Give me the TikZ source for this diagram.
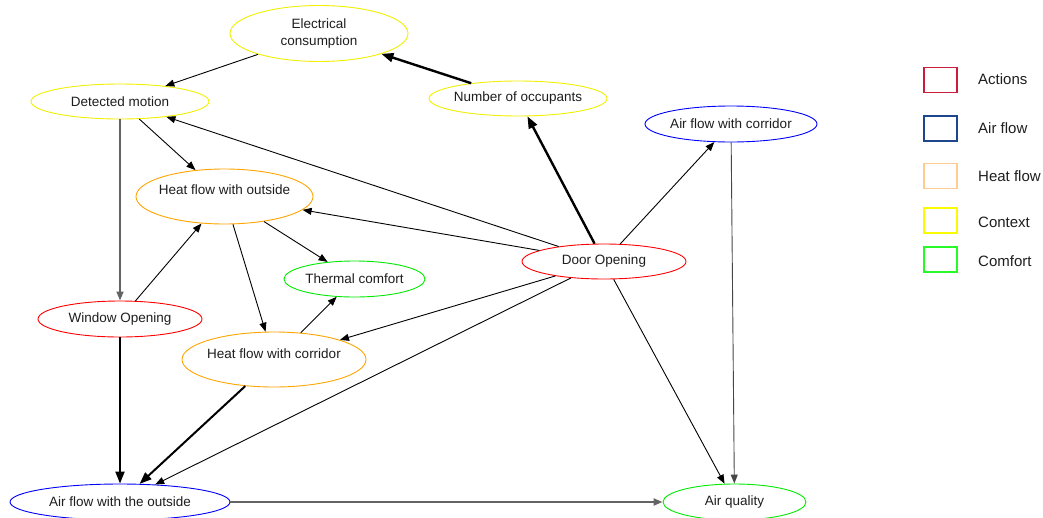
\documentclass[tikz,border=0pt]{standalone}
\usepackage{fontspec}
\setmainfont{Liberation Sans}
\usetikzlibrary{shapes.geometric,arrows.meta}
\definecolor{cyel}{RGB}{240,240,0}
\definecolor{cred}{RGB}{255,0,0}
\definecolor{cblue}{RGB}{0,0,255}
\definecolor{corange}{RGB}{255,165,0}
\definecolor{cgreen}{RGB}{0,235,0}
\definecolor{lgred}{RGB}{200,30,60}
\definecolor{lgblue}{RGB}{30,70,140}
\definecolor{lgorange}{RGB}{255,205,145}
\definecolor{lgyellow}{RGB}{250,250,0}
\definecolor{lggreen}{RGB}{40,250,40}
\definecolor{txt}{RGB}{30,30,30}
\tikzset{
  ell/.style={ellipse, draw=#1, line width=0.9pt, inner sep=0pt, fill=white},
  lbl/.style={text=txt, font=\fontsize{13.5}{17}\selectfont, align=center, inner sep=0pt},
  thinarr/.style={line width=0.9pt, -{Triangle[length=9pt,width=7pt]}},
  thickarr/.style={line width=2.4pt, -{Triangle[length=12pt,width=9pt]}},
  greyarr/.style={line width=1.4pt, draw={rgb,255:red,100;green,100;blue,100}, -{Triangle[length=9pt,width=7pt]}},
  legbox/.style={draw=#1, line width=1.2pt, minimum width=33pt, minimum height=25pt, inner sep=0pt},
  legtxt/.style={text=txt, font=\fontsize{15}{18}\selectfont, anchor=west, inner sep=0pt},
}
\begin{document}
\begin{tikzpicture}[x=1pt,y=-1pt]
\useasboundingbox (0,0) rectangle (1043,517);

% nodes
\node[ell=cyel, minimum width=178pt, minimum height=56pt,
  label={[lbl]center:Electrical\\consumption}] (elec) at (319,33.5) {};
\node[ell=cyel, minimum width=178pt, minimum height=35pt,
  label={[lbl]center:Number of occupants}] (occ) at (518,98.5) {};
\node[ell=cyel, minimum width=178pt, minimum height=35pt,
  label={[lbl]center:Detected motion}] (motion) at (120,101.5) {};
\node[ell=cblue, minimum width=172pt, minimum height=36pt,
  label={[lbl]center:Air flow with corridor}] (aircor) at (731,124) {};
\node[ell=corange, minimum width=177pt, minimum height=55pt,
  label={[lbl,yshift=7pt]center:Heat flow with outside}] (heatout) at (224.5,196.5) {};
\node[ell=cgreen, minimum width=141pt, minimum height=36pt,
  label={[lbl]center:Thermal comfort}] (thermal) at (354.5,279) {};
\node[ell=cred, minimum width=164pt, minimum height=35pt,
  label={[lbl]center:Door Opening}] (door) at (604,261.5) {};
\node[ell=cred, minimum width=164pt, minimum height=36pt,
  label={[lbl]center:Window Opening}] (window) at (120,319) {};
\node[ell=corange, minimum width=184pt, minimum height=55pt,
  label={[lbl,yshift=5.5pt]center:Heat flow with corridor}] (heatcor) at (274,359.5) {};
\node[ell=cblue, minimum width=220pt, minimum height=36pt,
  label={[lbl]center:Air flow with the outside}] (airout) at (120,502) {};
\node[ell=cgreen, minimum width=143pt, minimum height=36pt,
  label={[lbl]center:Air quality}] (quality) at (734.5,502) {};

% connectors
\draw[thinarr] (elec) -- (motion);
\draw[thickarr] (occ) -- (elec);
\draw[thickarr] (door) -- (occ);
\draw[thinarr] (door) -- (motion);
\draw[thinarr] (door) -- (heatout);
\draw[thinarr] (door) -- (aircor);
\draw[thinarr] (door) -- (heatcor);
\draw[thinarr] (door) -- (airout);
\draw[thinarr] (door) -- (quality);
\draw[thinarr, draw={rgb,255:red,70;green,70;blue,70}] (aircor) -- (quality);
\draw[greyarr] (motion) -- (window);
\draw[thinarr] (motion) -- (heatout);
\draw[thinarr] (window) -- (heatout);
\draw[thinarr] (heatout) -- (thermal);
\draw[thinarr] (heatout) -- (heatcor);
\draw[thinarr] (heatcor) -- (thermal);
\draw[thickarr, line width=2pt] (window) -- (airout);
\draw[thickarr, line width=2pt] (heatcor) -- (airout);
\draw[greyarr, line width=2pt] (airout) -- (quality);

% legend
\node[legbox=lgred] (lg1) at (940.5,80) {};
\node[legbox=lgblue] (lg2) at (940.5,128.5) {};
\node[legbox=lgorange] (lg3) at (940.5,176) {};
\node[legbox=lgyellow] (lg4) at (940.5,220.5) {};
\node[legbox=lggreen] (lg5) at (940.5,259.5) {};
\node[legtxt] (lt1) at (978,79) {Actions};
\node[legtxt] (lt2) at (978,128) {Air flow};
\node[legtxt] (lt3) at (978,176) {Heat flow};
\node[legtxt] (lt4) at (978,222) {Context};
\node[legtxt] (lt5) at (978,261) {Comfort};
\end{tikzpicture}
\end{document}
